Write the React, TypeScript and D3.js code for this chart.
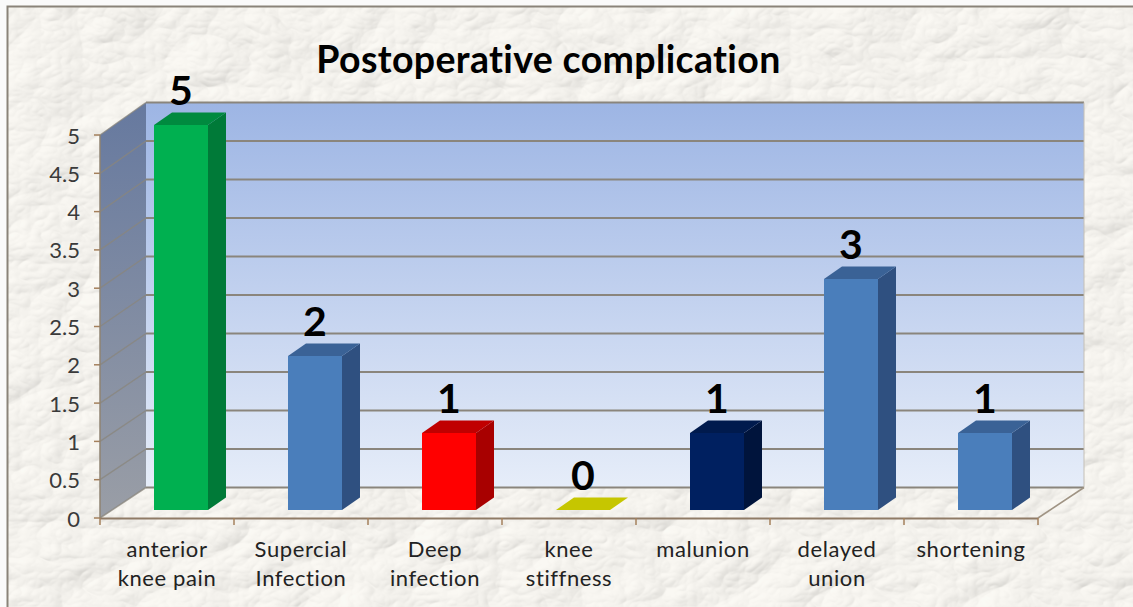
import React from "react";
import * as d3 from "d3";

const categories = [["anterior", "knee pain"], ["Supercial", "Infection"], ["Deep", "infection"], ["knee", "stiffness"], ["malunion"], ["delayed", "union"], ["shortening"]];
const values = [5, 2, 1, 0, 1, 3, 1];
const barFront = ["#00b050", "#4a7ebb", "#ff0000", "#c6c600", "#002060", "#4a7ebb", "#4a7ebb"];
const barTop = ["#008a3f", "#3a6296", "#c00000", "#c6c600", "#001a4d", "#3a6296", "#3a6296"];
const barSide = ["#007a38", "#2f5080", "#a80000", "#a0a000", "#00143c", "#2f5080", "#2f5080"];
const yTicks = [0, 0.5, 1, 1.5, 2, 2.5, 3, 3.5, 4, 4.5, 5];

const W = 1133, H = 607;
const x = d3.scaleBand<number>().domain(d3.range(values.length)).range([100, 1038]);
const y = d3.scaleLinear().domain([0, 5]).range([518, 135]);
const yBack = d3.scaleLinear().domain([0, 5]).range([487.5, 102.5]);
const yBar = d3.scaleLinear().domain([0, 5]).range([510, 125]);
const dx = 46;
const bdx = 18, bdy = -12.5;
const barW = 54, barOff = 54;
const font = "Lato, 'Open Sans', sans-serif";
const pts = (p: number[][]) => p.map(a => a.join(",")).join(" ");

export default function App() {
  const x0 = 100, x1 = 1038;
  return (
    <svg width={W} height={H} style={{ position: "fixed", left: 0, top: 0, display: "block" }}>
      <defs>
        <linearGradient id="wall" x1="0" y1="0" x2="0" y2="1">
          <stop offset="0" stopColor="#9db5e4" />
          <stop offset="1" stopColor="#e6edf9" />
        </linearGradient>
        <linearGradient id="side" x1="0" y1="0" x2="0" y2="1">
          <stop offset="0" stopColor="#66799f" />
          <stop offset="1" stopColor="#9a9ea6" />
        </linearGradient>
        <filter id="paper" x="0" y="0" width="100%" height="100%" colorInterpolationFilters="sRGB">
          <feTurbulence type="turbulence" baseFrequency="0.012 0.017" numOctaves="4" seed="11" result="n" />
          <feDiffuseLighting in="n" surfaceScale="3" diffuseConstant="1.05" lightingColor="#f5f3ee">
            <feDistantLight azimuth="225" elevation="72" />
          </feDiffuseLighting>
        </filter>
      </defs>
      <rect width={W} height={H} fill="#fafafa" />
      <rect x={7} y={6} width={W - 7} height={H - 6} fill="#f3f1ec" />
      <rect x={7} y={6} width={W - 7} height={H - 6} filter="url(#paper)" opacity={0.65} />
      <path d={`M7.5 ${H}V6.5H${W}`} fill="none" stroke="#8a8379" strokeWidth={2} />

      <text x={548.5} y={73} textAnchor="middle" fontFamily={font} fontWeight={700} fontSize={37.5} fill="#000" style={{ fontVariantLigatures: "none" }} letterSpacing={0.35}>Postoperative complication</text>

      <rect x={x0 + dx} y={yBack(5)} width={x1 - x0} height={yBack(0) - yBack(5)} fill="url(#wall)" />
      <polygon points={pts([[x0, y(0)], [x0, y(5)], [x0 + dx, yBack(5)], [x0 + dx, yBack(0)]])} fill="url(#side)" />
      {yTicks.map(t => (
        <g key={t} fill="none">
          <line x1={x0} y1={y(t)} x2={x0 + dx} y2={yBack(t)} stroke="#8a857c" strokeWidth={1.5} opacity={0.75} />
          <line x1={x0 + dx} y1={yBack(t)} x2={x1 + dx} y2={yBack(t)} stroke="#8a857c" strokeWidth={2} />
          <line x1={x0 - 6} x2={x0} y1={y(t)} y2={y(t)} stroke="#a5805c" strokeWidth={1.5} />
        </g>
      ))}
      <line x1={x1 + dx} y1={yBack(0)} x2={x1 + dx} y2={yBack(5)} stroke="#c4bfb6" strokeWidth={1} />
      <line x1={x1} y1={y(0)} x2={x1 + dx} y2={yBack(0)} stroke="#a09484" strokeWidth={1.6} />
      <line x1={x0} y1={y(0) + 0.5} x2={x1} y2={y(0) + 0.5} stroke="#8f7b66" strokeWidth={2} />
      <line x1={x0} y1={y(0)} x2={x0} y2={y(5)} stroke="#8f8372" strokeWidth={1.5} />
      {d3.range(values.length + 1).map(i => {
        const tx = i < values.length ? x(i)! : x1;
        return <line key={i} x1={tx} x2={tx} y1={y(0)} y2={y(0) + 7} stroke="#a5805c" strokeWidth={1.5} />;
      })}

      {yTicks.map(t => (
        <text key={t} x={80} y={y(t) + 8.5} textAnchor="end" fontFamily={font} fontSize={22} fill="#3a3a3a">{t}</text>
      ))}

      {values.map((v, i) => {
        const bx = x(i)! + barOff;
        const base = yBar(0);
        const top = yBar(v);
        return (
          <g key={i}>
            <polygon fill={barSide[i]} points={pts([[bx + barW, base], [bx + barW + bdx, base + bdy], [bx + barW + bdx, top + bdy], [bx + barW, top]])} />
            <polygon fill={barTop[i]} points={pts([[bx, top], [bx + bdx, top + bdy], [bx + barW + bdx, top + bdy], [bx + barW, top]])} />
            <rect x={bx} y={top} width={barW} height={base - top} fill={barFront[i]} />
            <text x={bx + barW / 2} y={top - 20} textAnchor="middle" fontFamily={font} fontWeight={700} fontSize={41} fill="#000">{v}</text>
          </g>
        );
      })}

      {categories.map((lines, i) => (
        <text key={i} textAnchor="middle" fontFamily={font} fontSize={22} letterSpacing={0.6} fill="#222">
          {lines.map((l, j) => (
            <tspan key={j} x={x(i)! + x.bandwidth() / 2} y={557 + j * 29}>{l}</tspan>
          ))}
        </text>
      ))}
    </svg>
  );
}
